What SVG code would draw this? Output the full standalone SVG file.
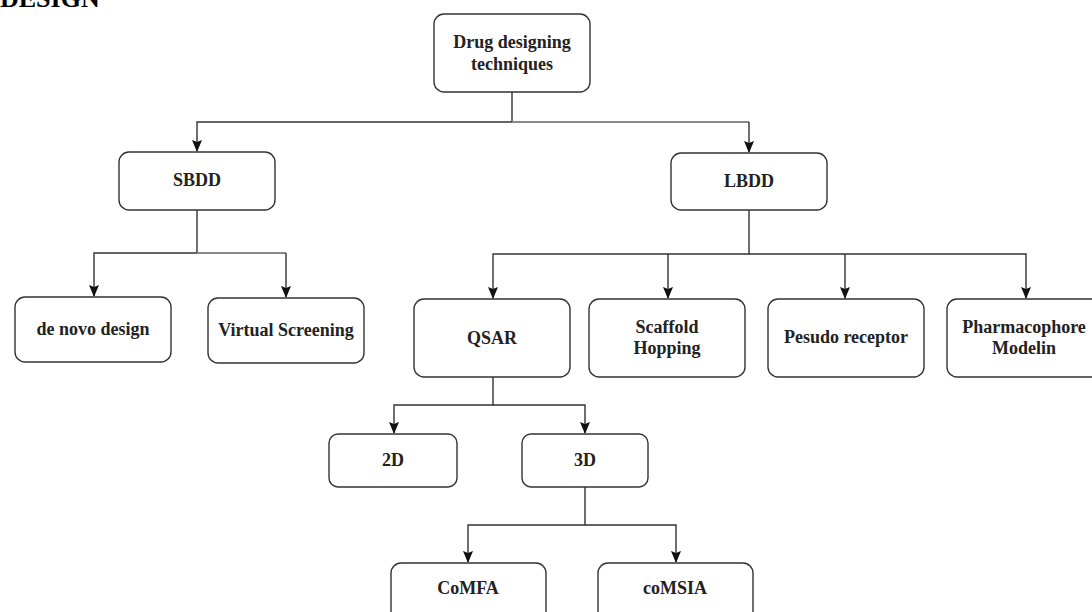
<svg xmlns="http://www.w3.org/2000/svg" width="1092" height="612" viewBox="0 0 1092 612">
<defs>
<style>
.box{fill:#fff;stroke:#333;stroke-width:1.4}
.lbl{font-family:"Liberation Serif","Times New Roman",serif;font-weight:bold;font-size:18px;fill:#222;text-anchor:middle}
.ttl{font-family:"Liberation Serif","Times New Roman",serif;font-weight:bold;font-size:26px;fill:#000}
.c{fill:none;stroke:#333;stroke-width:1.4}
.g{fill:none;stroke:#888;stroke-width:1.8}
</style>
<marker id="a" markerUnits="userSpaceOnUse" markerWidth="12" markerHeight="10" viewBox="0 0 12 10" refX="11" refY="5" orient="auto">
<path d="M0 0 L12 5 L0 10 L2 5 Z" fill="#111"/>
</marker>
</defs>
<rect width="1092" height="612" fill="#fff"/>
<text class="ttl" x="0" y="7">DESIGN</text>
<g id="connectors">
<path class="c" d="M512 92 V122 H197 V151" marker-end="url(#a)"/>
<path class="g" d="M512 122 H749"/>
<path class="c" d="M749 122 V152" marker-end="url(#a)"/>
<path class="c" d="M197 210 V253 H94 V296" marker-end="url(#a)"/>
<path class="g" d="M197 253 H286"/>
<path class="c" d="M286 253 V297" marker-end="url(#a)"/>
<path class="c" d="M749 210 V254 H493 V298" marker-end="url(#a)"/>
<path class="c" d="M749 254 H1026 V298" marker-end="url(#a)"/>
<path class="c" d="M668 254 V298" marker-end="url(#a)"/>
<path class="c" d="M845 254 V298" marker-end="url(#a)"/>
<path class="c" d="M493 377 V405 H394 V433" marker-end="url(#a)"/>
<path class="c" d="M493 405 H585 V433" marker-end="url(#a)"/>
<path class="c" d="M585 487 V525 H468 V562" marker-end="url(#a)"/>
<path class="c" d="M585 525 H676 V562" marker-end="url(#a)"/>
</g>
<g id="n-top"><rect class="box" x="434" y="14" width="156" height="78" rx="10"/><text class="lbl" x="512" y="48">Drug designing</text><text class="lbl" x="512" y="70">techniques</text></g>
<g id="n-sbdd"><rect class="box" x="119" y="152" width="156" height="58" rx="10"/><text class="lbl" x="197" y="186">SBDD</text></g>
<g id="n-lbdd"><rect class="box" x="671" y="153" width="156" height="57" rx="10"/><text class="lbl" x="749" y="187">LBDD</text></g>
<g id="n-denovo"><rect class="box" x="15" y="297" width="156" height="65" rx="10"/><text class="lbl" x="93" y="335">de novo design</text></g>
<g id="n-vs"><rect class="box" x="208" y="298" width="156" height="65" rx="10"/><text class="lbl" x="286" y="336">Virtual Screening</text></g>
<g id="n-qsar"><rect class="box" x="414" y="299" width="156" height="78" rx="10"/><text class="lbl" x="492" y="344">QSAR</text></g>
<g id="n-scaffold"><rect class="box" x="589" y="299" width="156" height="78" rx="10"/><text class="lbl" x="667" y="333">Scaffold</text><text class="lbl" x="667" y="354">Hopping</text></g>
<g id="n-pesudo"><rect class="box" x="768" y="299" width="156" height="78" rx="10"/><text class="lbl" x="846" y="343">Pesudo receptor</text></g>
<g id="n-pharm"><rect class="box" x="947" y="299" width="158" height="78" rx="10"/><text class="lbl" x="1024" y="333">Pharmacophore</text><text class="lbl" x="1024" y="354">Modelin</text></g>
<g id="n-2d"><rect class="box" x="329" y="434" width="128" height="53" rx="9"/><text class="lbl" x="393" y="466">2D</text></g>
<g id="n-3d"><rect class="box" x="522" y="434" width="126" height="53" rx="9"/><text class="lbl" x="585" y="466">3D</text></g>
<g id="n-comfa"><rect class="box" x="391" y="563" width="155" height="62" rx="10"/><text class="lbl" x="468" y="594">CoMFA</text></g>
<g id="n-comsia"><rect class="box" x="598" y="563" width="155" height="62" rx="10"/><text class="lbl" x="675" y="594">coMSIA</text></g>
</svg>
